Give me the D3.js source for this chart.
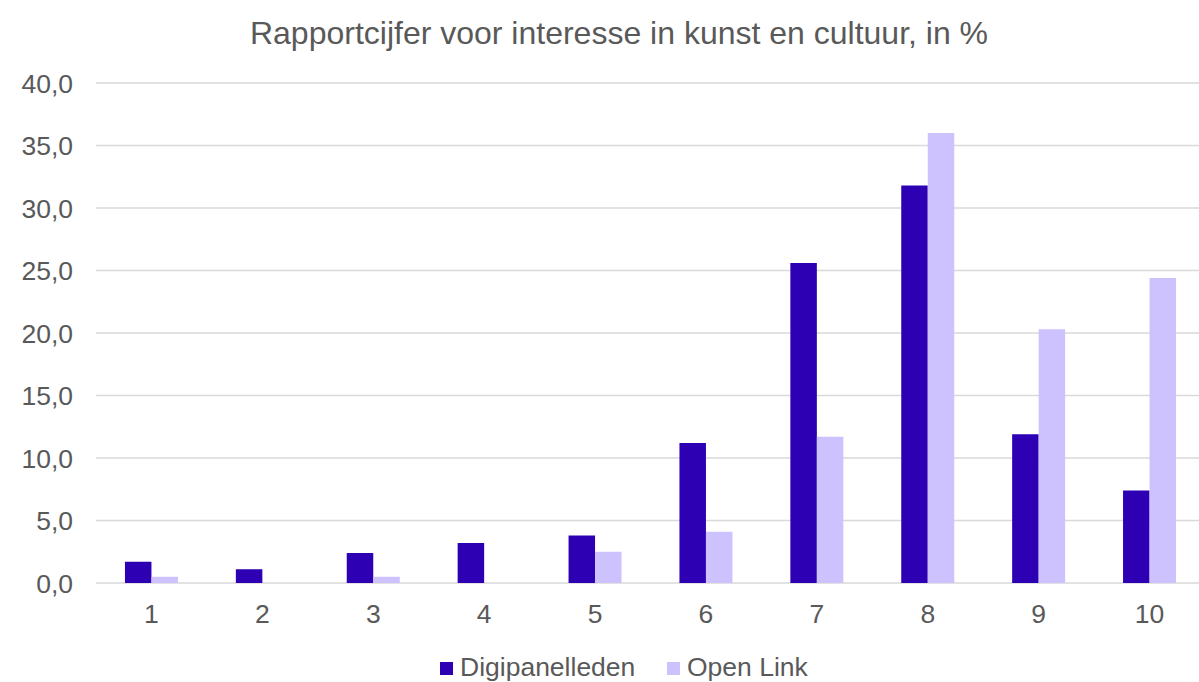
<!DOCTYPE html>
<html>
<head>
<meta charset="utf-8">
<script src="https://cdn.jsdelivr.net/npm/d3@7"></script>
<style>
  body { margin: 0; background: #fff; }
  text { font-family: "Liberation Sans", Arial, sans-serif; fill: #595959; }
</style>
</head>
<body>
<div id="vis"></div>
<script>
var categories = ['1', '2', '3', '4', '5', '6', '7', '8', '9', '10'];
var seriesNames = ['Digipanelleden', 'Open Link'];
var digipanelleden = [1.7, 1.1, 2.4, 3.2, 3.8, 11.2, 25.6, 31.8, 11.9, 7.4];
var openLink = [0.5, 0, 0.5, 0, 2.5, 4.1, 11.7, 36.0, 20.3, 24.4];
var yTicks = [0, 5, 10, 15, 20, 25, 30, 35, 40];
var colors = ['#2d00b4', '#cdc1fe'];

var width = 1199;
var height = 682;
var margin = { top: 83, right: -6, bottom: 99, left: 96 };

var svg = d3.select('#vis')
            .append('svg')
            .attr('width', width)
            .attr('height', height);

var xScale = d3.scaleBand()
               .domain(categories)
               .range([margin.left, width - margin.right]);

var inner = d3.scaleBand()
              .domain(seriesNames)
              .range([0, 53]);

var yScale = d3.scaleLinear()
               .domain([0, 40])
               .range([height - margin.bottom, margin.top]);

// gridlines
svg.append('g')
   .selectAll('line')
   .data(yTicks)
   .enter().append('line')
   .attr('x1', margin.left)
   .attr('x2', width)
   .attr('y1', function(d) { return yScale(d); })
   .attr('y2', function(d) { return yScale(d); })
   .attr('stroke', '#d9d9d9')
   .attr('stroke-width', 1.5);

var fmt = function(d) { return d3.format('.1f')(d).replace('.', ','); };

var yAxis = d3.axisLeft(yScale).tickValues(yTicks).tickFormat(fmt).tickSize(0).tickPadding(0);
svg.append('g')
   .attr('transform', 'translate(73,0)')
   .call(yAxis)
   .call(function(g) { g.select('.domain').remove(); })
   .selectAll('text')
   .style('font-size', '26.5px')
   .attr('dy', '0.35em')
   .style('fill', '#595959');

var xAxis = d3.axisBottom(xScale).tickSize(0).tickPadding(0);
svg.append('g')
   .attr('transform', 'translate(0,' + (height - margin.bottom + 31) + ')')
   .call(xAxis)
   .call(function(g) { g.select('.domain').remove(); })
   .selectAll('text')
   .style('font-size', '26.5px')
   .attr('dy', '0.35em')
   .style('fill', '#595959');

var rows = categories.map(function(c, i) {
    return [
        { cat: c, name: seriesNames[0], value: digipanelleden[i], color: colors[0] },
        { cat: c, name: seriesNames[1], value: openLink[i], color: colors[1] }
    ];
});

svg.append('g')
   .selectAll('g')
   .data(rows)
   .enter().append('g')
   .attr('transform', function(d) {
       return 'translate(' + (xScale(d[0].cat) + xScale.bandwidth() / 2 - 26.5) + ',0)';
   })
   .selectAll('rect')
   .data(function(d) { return d.filter(function(e) { return e.value > 0; }); })
   .enter().append('rect')
   .attr('x', function(d) { return inner(d.name); })
   .attr('width', inner.bandwidth())
   .attr('y', function(d) { return yScale(d.value); })
   .attr('height', function(d) { return yScale(0) - yScale(d.value); })
   .attr('fill', function(d) { return d.color; });

// title
svg.append('text')
   .attr('x', 619)
   .attr('y', 32.5)
   .attr('dy', '0.35em')
   .attr('text-anchor', 'middle')
   .style('font-size', '32px')
   .text('Rapportcijfer voor interesse in kunst en cultuur, in %');

// legend
var legendX = [440, 667];
var legend = svg.append('g')
   .selectAll('g')
   .data(seriesNames)
   .enter().append('g')
   .attr('transform', function(d, i) { return 'translate(' + legendX[i] + ',662)'; });

legend.append('rect')
   .attr('width', 13)
   .attr('height', 13)
   .attr('fill', function(d, i) { return colors[i]; });

legend.append('text')
   .attr('x', 20)
   .attr('y', 4.7)
   .attr('dy', '0.35em')
   .style('font-size', '26.5px')
   .text(function(d) { return d; });
</script>
</body>
</html>
